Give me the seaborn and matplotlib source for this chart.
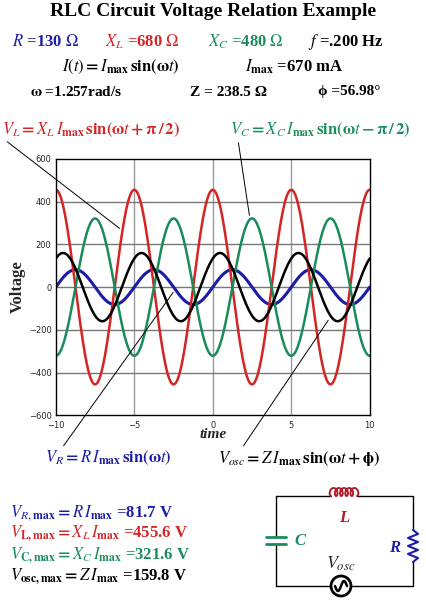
import numpy as np
import matplotlib
matplotlib.use("Agg")
import matplotlib.pyplot as plt
import seaborn as sns

# circuit parameters and read-off amplitudes
omega = 1.257
amps = [81.7, 455.6, 321.6, 159.8]          # V_R, V_L, V_C, V_osc
phases = [0.0, np.pi / 2, -np.pi / 2, np.radians(56.98)]
colors = ["#1c1ca6", "#d42424", "#1a8c5c", "black"]
widths = [2.2, 1.8, 1.8, 1.8]
x_ticks = [-10, -5, 0, 5, 10]
y_ticks = [-600, -400, -200, 0, 200, 400, 600]

sns.set_theme(style="white")
plt.rcParams["font.family"] = ["Liberation Serif", "DejaVu Serif"]
plt.rcParams["mathtext.fontset"] = "stix"

fig = plt.figure(figsize=(4.26, 6.0), dpi=100)
ax = fig.add_axes([0.131, 0.308, 0.737, 0.427])

t = np.linspace(-10, 10, 800)
for a, p, c, w in zip(amps, phases, colors, widths):
    sns.lineplot(x=t, y=a * np.sin(omega * t + p), color=c, lw=w, ax=ax)

ax.set_xlim(-10, 10)
ax.set_ylim(-600, 600)
ax.set_xticks(x_ticks)
ax.set_yticks(y_ticks)
ax.set_xticklabels(["\u221210", "\u22125", "0", "5", "10"], family="DejaVu Sans", fontsize=6)
ax.set_yticklabels(["\u2212600", "\u2212400", "\u2212200", "0", "200", "400", "600"],
                   family="DejaVu Sans", fontsize=6)
ax.tick_params(axis="x", length=0, pad=4)
ax.tick_params(axis="y", length=0, pad=3)
for v in [-5, 0, 5]:
    ax.axvline(v, color="#999999", lw=1, zorder=0)
for v in [-400, -200, 0, 200, 400]:
    ax.axhline(v, color="#777777", lw=1, zorder=0)
for s in ax.spines.values():
    s.set_color("black")
    s.set_linewidth(1)
ax.set_ylabel("Voltage", fontsize=12, fontweight="bold", labelpad=2)
ax.set_xlabel("time", fontsize=11, fontweight="bold", style="italic", labelpad=-1)

def ftext(x, y, s, color="black", size=11, ha="left"):
    fig.text(x / 426, 1 - y / 600, s, color=color, fontsize=size, ha=ha, va="center",
             fontweight="bold")

ftext(213, 12, "RLC Circuit Voltage Relation Example", size=14, ha="center")
ftext(12, 42, r"$\mathbf{\mathit{R}}$ =130 $\Omega$", colors[0], 12)
ftext(105, 42, r"$\mathbf{\mathit{X_L}}$ =680 $\Omega$", colors[1], 12)
ftext(208, 42, r"$\mathbf{\mathit{X_C}}$ =480 $\Omega$", colors[2], 12)
ftext(308, 42, r"$\mathbf{\mathit{f}}$ =.200 Hz", size=12)
ftext(62, 67, r"$\mathbf{\mathit{I(t)}=\mathit{I}_{max}\,sin(\omega\mathit{t})}$", size=12)
ftext(245, 67, r"$\mathbf{\mathit{I}_{max}}$ =670 mA", size=12)
ftext(30, 92, r"$\mathbf{\omega}$ =1.257rad/s", size=11)
ftext(190, 92, "Z = 238.5 \u03a9", size=11)
ftext(318, 92, "\u03d5 =56.98\u00b0", size=11)
ftext(2, 130, r"$\mathbf{\mathit{V_L}=\mathit{X_L\,I}_{max}\,sin(\omega \mathit{t}+\pi\,/\,2)}$", colors[1], 12)
ftext(230, 130, r"$\mathbf{\mathit{V_C}=\mathit{X_C\,I}_{max}\,sin(\omega \mathit{t}-\pi\,/\,2)}$", colors[2], 12)
ftext(45, 458, r"$\mathbf{\mathit{V_R}=\mathit{R\,I}_{max}\,sin(\omega \mathit{t})}$", colors[0], 12)
ftext(218, 458, r"$\mathbf{\mathit{V_{osc}}=\mathit{Z\,I}_{max}\,sin(\omega \mathit{t}+\phi)}$", size=12)
ftext(10, 513, r"$\mathbf{\mathit{V_{R,}}_{max}=\mathit{R\,I}_{max}}$ =81.7 V", colors[0], 12)
ftext(10, 534, r"$\mathbf{\mathit{V}_{L,max}=\mathit{X_L\,I}_{max}}$ =455.6 V", colors[1], 12)
ftext(10, 556, r"$\mathbf{\mathit{V}_{C,max}=\mathit{X_C\,I}_{max}}$ =321.6 V", colors[2], 12)
ftext(10, 577, r"$\mathbf{\mathit{V}_{osc,max}=\mathit{Z\,I}_{max}}$ =159.8 V", size=12)

# pointer lines from labels to curves
for xy, txt in [((-5.8, 267), (5, 140)), ((2.36, 323), (238, 140)),
                ((-2.42, -14), (62, 448)), ((7.45, -145), (242, 448))]:
    ax.annotate("", xy=xy, xytext=(txt[0] / 426, 1 - txt[1] / 600), textcoords="figure fraction",
                arrowprops=dict(arrowstyle="-", color="black", lw=0.7), annotation_clip=False)

# circuit diagram in pixel coordinates
cx = fig.add_axes([0, 0, 1, 1], zorder=-1)
cx.set_xlim(0, 426)
cx.set_ylim(600, 0)
cx.axis("off")
cx.plot([276, 331], [496, 496], color="black", lw=1)
cx.plot([357, 413, 413], [496, 496, 530], color="black", lw=1)
cx.plot([413, 413, 351], [562, 586, 586], color="black", lw=1)
cx.plot([331, 276, 276], [586, 586, 544], color="black", lw=1)
cx.plot([276, 276], [537, 496], color="black", lw=1)
cx.plot([266, 286], [537, 537], color=colors[2], lw=2)
cx.plot([266, 286], [544, 544], color=colors[2], lw=2)
s = np.linspace(0, 5 * 2 * np.pi, 300)
cx.plot(331 + s / (10 * np.pi) * 26 - 2.5 * np.sin(s), 492 + 4 * np.cos(s),
        color="#b01c2c", lw=1.4)
zy = np.linspace(530, 562, 9)
zx = [413, 418, 408, 418, 408, 418, 408, 418, 413]
cx.plot(zx, zy, color=colors[0], lw=1.5)
cx.add_patch(plt.Circle((341, 586), 10, fill=True, fc="white", ec="black", lw=2))
sw = np.linspace(-1, 1, 50)
cx.plot(341 + 6 * sw, 586 - 5 * np.sin(np.pi * sw), color="black", lw=1.8)
cx.text(344, 518, "L", color="#b01c2c", fontsize=12, fontweight="bold", style="italic", ha="center", va="center")
cx.text(300, 541, "C", color=colors[2], fontsize=12, fontweight="bold", style="italic", ha="center", va="center")
cx.text(395, 548, "R", color=colors[0], fontsize=12, fontweight="bold", style="italic", ha="center", va="center")
cx.text(341, 564, r"$\mathbf{\mathit{V_{osc}}}$", fontsize=13, ha="center", va="center")

fig.savefig("out.png", dpi=100)
